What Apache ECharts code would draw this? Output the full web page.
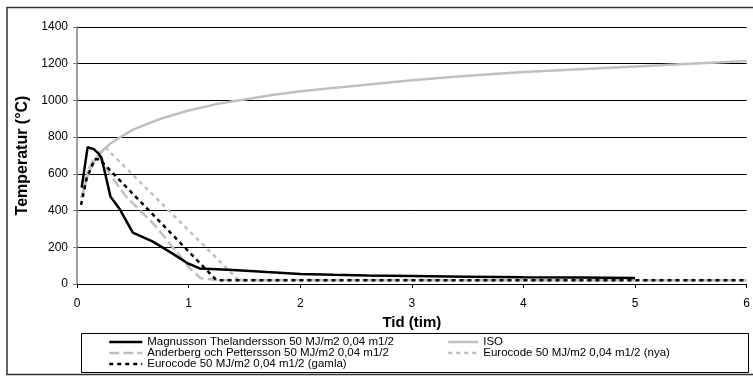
<!DOCTYPE html>
<html>
<head>
<meta charset="utf-8">
<script src="https://cdn.jsdelivr.net/npm/echarts@6/dist/echarts.min.js"></script>
<style>html,body{margin:0;padding:0;background:#fff}#c{width:753px;height:376px}</style>
</head>
<body>
<div id="c"></div>
<script>
// Tick settings
const xTicks = [0, 1, 2, 3, 4, 5, 6];
const yTicks = [0, 200, 400, 600, 800, 1000, 1200, 1400];

// Series names
const seriesNames = [
  'Magnusson Thelandersson 50 MJ/m2 0,04 m1/2',
  'ISO',
  'Anderberg och Pettersson 50 MJ/m2 0,04 m1/2',
  'Eurocode 50 MJ/m2 0,04 m1/2 (nya)',
  'Eurocode 50 MJ/m2 0,04 m1/2 (gamla)'
];

// Magnusson Thelandersson
const magTime = [0.042, 0.095, 0.15, 0.19, 0.22, 0.3, 0.38, 0.5, 0.68, 0.86, 0.99, 1.1, 1.2, 1.4, 1.7, 2, 2.3, 2.6, 3, 3.5, 4, 4.5, 5];
const magTemp = [525, 745, 735, 713, 686, 476, 410, 280, 231, 164, 113, 85, 82, 76, 65, 55, 50, 46, 43, 40, 37, 35, 33];

// ISO
const isoTime = [0.042, 0.1, 0.15, 0.2, 0.25, 0.3, 0.4, 0.5, 0.6, 0.75, 1, 1.25, 1.5, 1.75, 2, 2.5, 3, 3.5, 4, 4.5, 5, 5.5, 6];
const isoTemp = [470, 600, 665, 705, 740, 765, 805, 840, 865, 900, 945, 980, 1005, 1030, 1050, 1080, 1110, 1135, 1155, 1170, 1185, 1200, 1215];

// Anderberg och Pettersson
const andTime = [0.045, 0.1, 0.15, 0.2, 0.31, 0.44, 0.59, 0.68, 0.77, 0.85, 0.93, 1.01, 1.11, 1.25, 6];
const andTemp = [480, 620, 680, 690, 585, 476, 386, 331, 267, 205, 149, 86, 31, 22, 20];

// Eurocode (nya)
const ecNyaTime = [0.04, 0.1, 0.15, 0.2, 0.26, 1.45, 6];
const ecNyaTemp = [470, 610, 670, 715, 740, 20, 20];

// Eurocode (gamla)
const ecGamlaTime = [0.036, 0.087, 0.16, 0.2, 1.25, 6];
const ecGamlaTemp = [431, 577, 680, 680, 20, 20];

function pairs(t, v) { return t.map((x, i) => [x, v[i]]); }

const FONT = '"Liberation Sans", Arial, sans-serif';
const chart = echarts.init(document.getElementById('c'), null, {renderer: 'canvas'});

const legendPos = [
  {left: 108, top: 336, w: 33},
  {left: 447, top: 336, w: 30},
  {left: 108, top: 347, w: 33},
  {left: 447, top: 347, w: 30},
  {left: 108, top: 358, w: 33}
];

const option = {
  backgroundColor: '#fff',
  animation: false,
  grid: {left: 77, right: 4, top: 27, bottom: 92, containLabel: false},
  legend: seriesNames.map((n, i) => ({
    data: [n],
    left: legendPos[i].left,
    top: legendPos[i].top,
    padding: 0,
    itemWidth: legendPos[i].w,
    itemHeight: 10,
    selectedMode: false,
    itemStyle: {opacity: 0},
    lineStyle: {width: 2.5},
    textStyle: {fontFamily: FONT, fontSize: 11.5, color: '#000'}
  })),
  xAxis: {
    type: 'value', min: xTicks[0], max: xTicks[xTicks.length - 1], interval: 1,
    name: 'Tid (tim)', nameLocation: 'middle', nameGap: 28,
    nameTextStyle: {fontFamily: FONT, fontSize: 15, fontWeight: 'bold', color: '#000'},
    axisLine: {lineStyle: {color: '#000', width: 1}},
    axisTick: {show: true, length: 4, lineStyle: {color: '#000'}},
    axisLabel: {fontFamily: FONT, fontSize: 12, color: '#000', margin: 14, formatter: v => String(v)},
    splitLine: {show: false}
  },
  yAxis: {
    type: 'value', min: yTicks[0], max: yTicks[yTicks.length - 1], interval: 200,
    name: 'Temperatur (°C)', nameLocation: 'middle', nameGap: 45,
    nameTextStyle: {fontFamily: FONT, fontSize: 16, fontWeight: 'bold', color: '#000'},
    axisLine: {show: true, lineStyle: {color: '#808080', width: 1.5}},
    axisTick: {show: true, length: 4, lineStyle: {color: '#808080'}},
    axisLabel: {fontFamily: FONT, fontSize: 12, color: '#000', margin: 9, formatter: v => String(v)},
    splitLine: {show: true, lineStyle: {color: '#000', width: 1}}
  },
  series: [
    {name: seriesNames[0], type: 'line', data: pairs(magTime, magTemp), symbol: 'none', z: 5,
     lineStyle: {color: '#000', width: 2.5}, itemStyle: {color: '#000'}},
    {name: seriesNames[1], type: 'line', data: pairs(isoTime, isoTemp), symbol: 'none', z: 2,
     lineStyle: {color: '#c0c0c0', width: 2.5}, itemStyle: {color: '#c0c0c0'}},
    {name: seriesNames[2], type: 'line', data: pairs(andTime, andTemp), symbol: 'none', z: 3,
     lineStyle: {color: '#c0c0c0', width: 2.5, type: [10, 4]}, itemStyle: {color: '#c0c0c0'}},
    {name: seriesNames[3], type: 'line', data: pairs(ecNyaTime, ecNyaTemp), symbol: 'none', z: 3,
     lineStyle: {color: '#c0c0c0', width: 2.5, type: [4, 4]}, itemStyle: {color: '#c0c0c0'}},
    {name: seriesNames[4], type: 'line', data: pairs(ecGamlaTime, ecGamlaTemp), symbol: 'none', z: 4,
     lineStyle: {color: '#000', width: 2.5, type: [4, 4]}, itemStyle: {color: '#000'}}
  ],
  graphic: [
    {type: 'rect', silent: true, shape: {x: 7, y: 7.5, width: 800, height: 367},
     style: {fill: 'none', stroke: '#333', lineWidth: 1.5}},
    {type: 'rect', silent: true, shape: {x: 81.5, y: 333.5, width: 667, height: 39},
     style: {fill: 'none', stroke: '#000', lineWidth: 1}}
  ]
};
chart.setOption(option);
</script>
</body>
</html>
